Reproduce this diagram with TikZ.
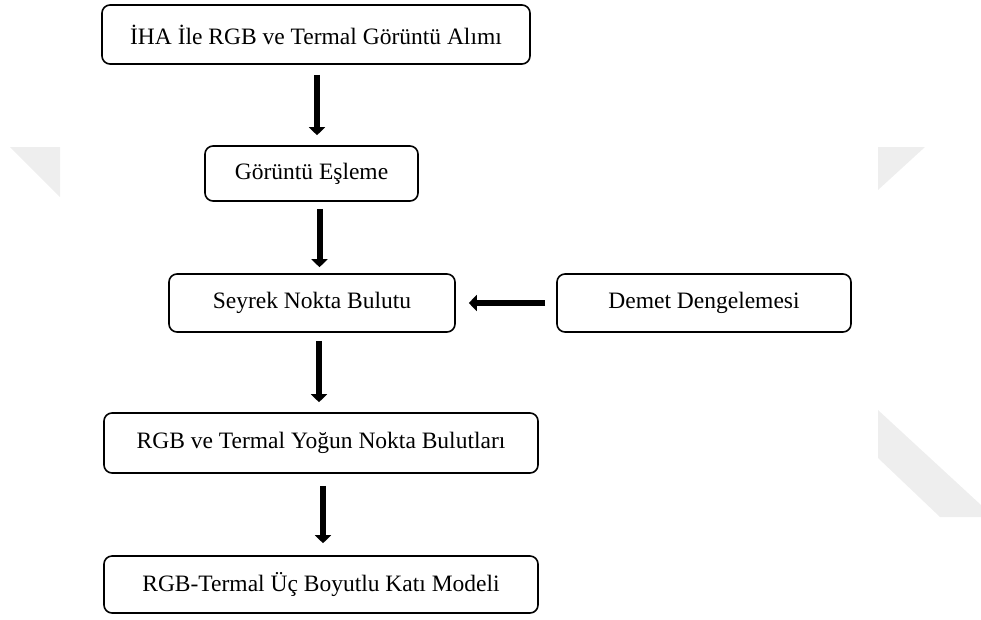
\documentclass[tikz,border=0pt]{standalone}
\usepackage{fontspec}
\setmainfont{Liberation Serif}
\usetikzlibrary{arrows.meta}
\definecolor{markgray}{RGB}{238,238,238}

\begin{document}
\begin{tikzpicture}[x=1pt, y=-1pt,
  box/.style={draw=black, line width=1.6pt, rounded corners=8pt, fill=white,
    inner sep=0pt, font=\fontsize{23.5}{28}\selectfont},
  flow/.style={-{Triangle[width=16pt,length=8pt]}, line width=6pt}]
\useasboundingbox (0,0) rectangle (981,619);
% faint marks in the background
\fill[markgray] (10,147) -- (60,147) -- (60,197) -- cycle;
\fill[markgray] (878,147) -- (925,147) -- (878,190) -- cycle;
\fill[markgray] (878,410) -- (981,505) -- (981,517) -- (940,517) -- (878,458) -- cycle;
% steps
\node[box, minimum width=428, minimum height=59] (alim) at (316,34.5) {İHA İle RGB ve Termal Görüntü Alımı};
\node[box, minimum width=213, minimum height=55] (esle) at (311.5,173.5) {Görüntü Eşleme};
\node[box, minimum width=286, minimum height=58] (seyrek) at (312,303) {Seyrek Nokta Bulutu};
\node[box, minimum width=294, minimum height=58] (demet) at (704,303) {Demet Dengelemesi};
\node[box, minimum width=434, minimum height=60] (yogun) at (321,443) {RGB ve Termal Yoğun Nokta Bulutları};
\node[box, minimum width=434, minimum height=57] (model) at (321,584.5) {RGB-Termal Üç Boyutlu Katı Modeli};
% arrows
\draw[flow, shorten <=10, shorten >=10] ([xshift=1]alim.south) -- ([xshift=1]alim.south |- esle.north);
\draw[flow, shorten <=7, shorten >=6] ([xshift=8]esle.south) -- ([xshift=8]esle.south |- seyrek.north);
\draw[flow, shorten <=8, shorten >=10] ([xshift=7]seyrek.south) -- ([xshift=7]seyrek.south |- yogun.north);
\draw[flow, shorten <=12, shorten >=12] ([xshift=2]yogun.south) -- ([xshift=2]yogun.south |- model.north);
\draw[flow, shorten <=11, shorten >=13] (demet.west) -- (seyrek.east);
\end{tikzpicture}
\end{document}
